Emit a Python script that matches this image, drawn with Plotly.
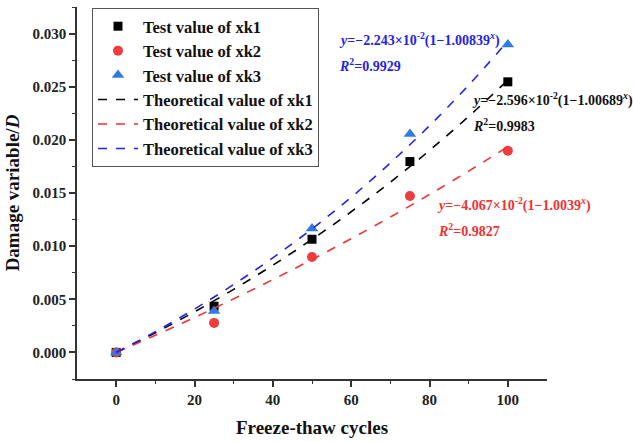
import plotly.graph_objects as go

cycles = [0, 25, 50, 75, 100]
xk1_test = [0.0, 0.00435, 0.01065, 0.01796, 0.02546]
xk2_test = [0.0, 0.00278, 0.00898, 0.01472, 0.01898]
xk3_test = [0.0, 0.00390, 0.01167, 0.02056, 0.02898]

theory_x = [0, 10, 20, 30, 40, 50, 60, 70, 80, 90, 100]
xk1_theory = [0.0, 0.001845, 0.003821, 0.005938, 0.008205, 0.010633, 0.013234, 0.016019, 0.019003, 0.022199, 0.025624]
xk2_theory = [0.0, 0.001614, 0.003293, 0.005037, 0.006852, 0.008738, 0.010699, 0.012738, 0.014858, 0.017062, 0.019354]
xk3_theory = [0.0, 0.001955, 0.004080, 0.006389, 0.008901, 0.011631, 0.014599, 0.017826, 0.021334, 0.025148, 0.029294]

xticks = [0, 20, 40, 60, 80, 100]
yticks = [0.0, 0.005, 0.010, 0.015, 0.020, 0.025, 0.030]

BLACK = "#000000"
RED = "#f03c3c"
BLUE = "#2f7be0"
LBLUE = "#2323e6"
LRED = "#f03232"
FONT = "Liberation Serif"

fig = go.Figure()
fig.add_trace(go.Scatter(x=cycles, y=xk1_test, mode="markers", name="<b>Test value of xk1</b>",
                         marker=dict(symbol="square", size=9, color=BLACK)))
fig.add_trace(go.Scatter(x=cycles, y=xk2_test, mode="markers", name="<b>Test value of xk2</b>",
                         marker=dict(symbol="circle", size=10, color=RED)))
fig.add_trace(go.Scatter(x=cycles, y=xk3_test, mode="markers", name="<b>Test value of xk3</b>",
                         marker=dict(symbol="triangle-up", size=11, color=BLUE)))
fig.add_trace(go.Scatter(x=theory_x, y=xk1_theory, mode="lines", name="<b>Theoretical value of xk1</b>",
                         line=dict(color=BLACK, dash="dash", width=1.6, shape="spline")))
fig.add_trace(go.Scatter(x=theory_x, y=xk2_theory, mode="lines", name="<b>Theoretical value of xk2</b>",
                         line=dict(color=LRED, dash="dash", width=1.6, shape="spline")))
fig.add_trace(go.Scatter(x=theory_x, y=xk3_theory, mode="lines", name="<b>Theoretical value of xk3</b>",
                         line=dict(color=LBLUE, dash="dash", width=1.6, shape="spline")))

axis_common = dict(showgrid=False, zeroline=False, showline=True, linecolor="#333333", linewidth=1.5,
                   ticks="outside", ticklen=6, tickwidth=1.5, tickcolor="#333333",
                   tickfont=dict(family=FONT, size=15, color="#222222"),
                   minor=dict(ticks="outside", ticklen=3, tickwidth=1.2, tickcolor="#333333"),
                   mirror=False)

fig.update_xaxes(range=[-10, 110], tickvals=xticks, ticktext=[f"<b>{v}</b>" for v in xticks],
                 title=dict(text="<b>Freeze-thaw cycles</b>", font=dict(family=FONT, size=19, color="#111111"), standoff=14),
                 **axis_common)
fig.update_xaxes(minor=dict(tickvals=[10, 30, 50, 70, 90]))
fig.update_yaxes(range=[-0.0025, 0.0325], tickvals=yticks, ticktext=[f"<b>{v:.3f}</b>" for v in yticks],
                 title=dict(text="<b>Damage variable/<i>D</i></b>", font=dict(family=FONT, size=19, color="#111111"), standoff=8),
                 **axis_common)
fig.update_yaxes(minor=dict(tickvals=[-0.0025, 0.0025, 0.0075, 0.0125, 0.0175, 0.0225, 0.0275, 0.0325]))

ann = [
    ("<b><i>y</i>=−2.243×10<sup>-2</sup>(1−1.00839<sup><i>x</i></sup>)</b>", 337, 40, LBLUE),
    ("<b><i>R</i><sup>2</sup>=0.9929</b>", 337, 66, LBLUE),
    ("<b><i>y</i>=−2.596×10<sup>-2</sup>(1−1.00689<sup><i>x</i></sup>)</b>", 470, 101, "#111111"),
    ("<b><i>R</i><sup>2</sup>=0.9983</b>", 471, 127, "#111111"),
    ("<b><i>y</i>=−4.067×10<sup>-2</sup>(1−1.0039<sup><i>x</i></sup>)</b>", 435, 208, LRED),
    ("<b><i>R</i><sup>2</sup>=0.9827</b>", 436, 234, LRED),
]
L, R, T, B = 77, 86, 7, 57
W, H = 633, 442
pw, ph = W - L - R, H - T - B
for text, px, py, col in ann:
    fig.add_annotation(text=text, xref="paper", yref="paper",
                       x=(px - L) / pw, y=1 - (py - T) / ph,
                       xanchor="left", yanchor="middle", showarrow=False,
                       font=dict(family=FONT, size=14, color=col))

fig.update_layout(
    width=W, height=H,
    margin=dict(l=L, r=R, t=T, b=B),
    plot_bgcolor="white", paper_bgcolor="white",
    legend=dict(x=(92 - L) / pw, y=1 - (8 - T) / ph, xanchor="left", yanchor="top",
                bordercolor="#555555", borderwidth=1, bgcolor="white",
                font=dict(family=FONT, size=16.5, color="#111111"),
                tracegroupgap=0, itemwidth=40),
    showlegend=True,
)

fig.write_html("out.html")
